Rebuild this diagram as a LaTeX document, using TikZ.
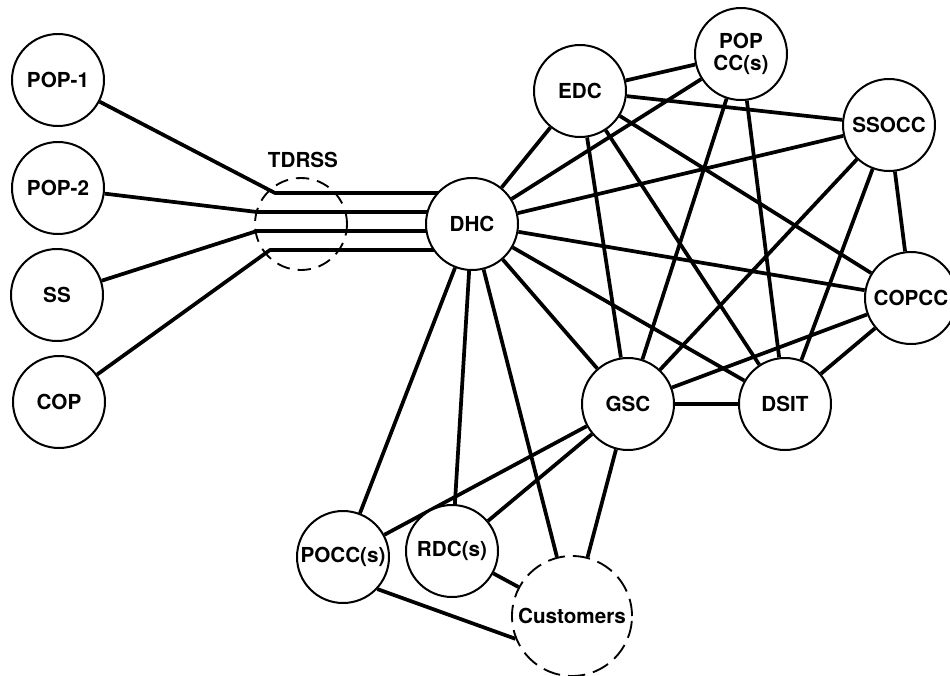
\documentclass[tikz,border=0pt]{standalone}
\usepackage{fontspec}
\setmainfont{TeX Gyre Heros}
\usetikzlibrary{backgrounds}
\begin{document}
\begin{tikzpicture}[x=0.75pt,y=-0.75pt,
  font=\fontsize{15.5}{17}\selectfont\bfseries,
  station/.style={circle,draw,line width=1.5pt,fill=white,minimum size=69pt,inner sep=0pt,align=center},
  relay/.style={circle,draw,line width=1.4pt,dash pattern=on 10pt off 6pt,minimum size=69pt,inner sep=0pt},
  users/.style={circle,draw,line width=1.4pt,dash pattern=on 13pt off 6pt,fill=white,minimum size=90pt,inner sep=0pt},
  link/.style={line width=2.8pt,line join=round}]
\useasboundingbox (0,0) rectangle (950,675);

% ground and space elements
\node[station] (pop1) at (58,80) {POP-1};
\node[station] (pop2) at (58,188) {POP-2};
\node[station] (ss) at (57,295) {SS};
\node[station] (cop) at (59,402) {COP};
\node[relay] (tdrss) at (301,224) {};
\node (tdrsslabel) at (303,160) {TDRSS};
\node[station] (dhc) at (472,224) {DHC};
\node[station] (edc) at (580,91) {EDC};
\node[station] (popcc) at (741,54) {POP\\[-1pt]CC(s)};
\node[station] (ssocc) at (889,125) {SSOCC};
\node[station] (copcc) at (911,298) {COPCC};
\node[station] (gsc) at (628,404) {GSC};
\node[station] (dsit) at (785,404) {DSIT};
\node[station] (pocc) at (343,557) {POCC(s)};
\node[station] (rdc) at (452,551) {RDC(s)};
\node[users] (cust) at (572,616) {Customers};

% relay entry points
\coordinate (t1) at (275,193);
\coordinate (t2) at (257,212);
\coordinate (t3) at (257,231);
\coordinate (t4) at (270,250);

\begin{scope}[on background layer]
  % links through the relay
  \draw[link] (pop1) -- (t1) -- (t1 -| dhc);
  \draw[link] (pop2) -- (t2) -- (t2 -| dhc);
  \draw[link] (ss) -- (t3) -- (t3 -| dhc);
  \draw[link] (cop) -- (t4) -- (t4 -| dhc);
  % ground network
  \foreach \a/\b in {dhc/edc, dhc/popcc, dhc/ssocc, dhc/copcc, dhc/dsit, dhc/gsc,
      dhc/pocc, dhc/rdc, dhc/cust,
      edc/popcc, edc/ssocc, edc/copcc, edc/gsc, edc/dsit,
      popcc/gsc, popcc/dsit,
      ssocc/gsc, ssocc/dsit, ssocc/copcc,
      copcc/gsc, copcc/dsit,
      gsc/dsit, gsc/pocc, gsc/rdc, gsc/cust, rdc/cust}
    \draw[link] (\a) -- (\b);
  % passes below the RDC circle
  \draw[link] (pocc.-43) -- (cust.202);
\end{scope}
\end{tikzpicture}
\end{document}
